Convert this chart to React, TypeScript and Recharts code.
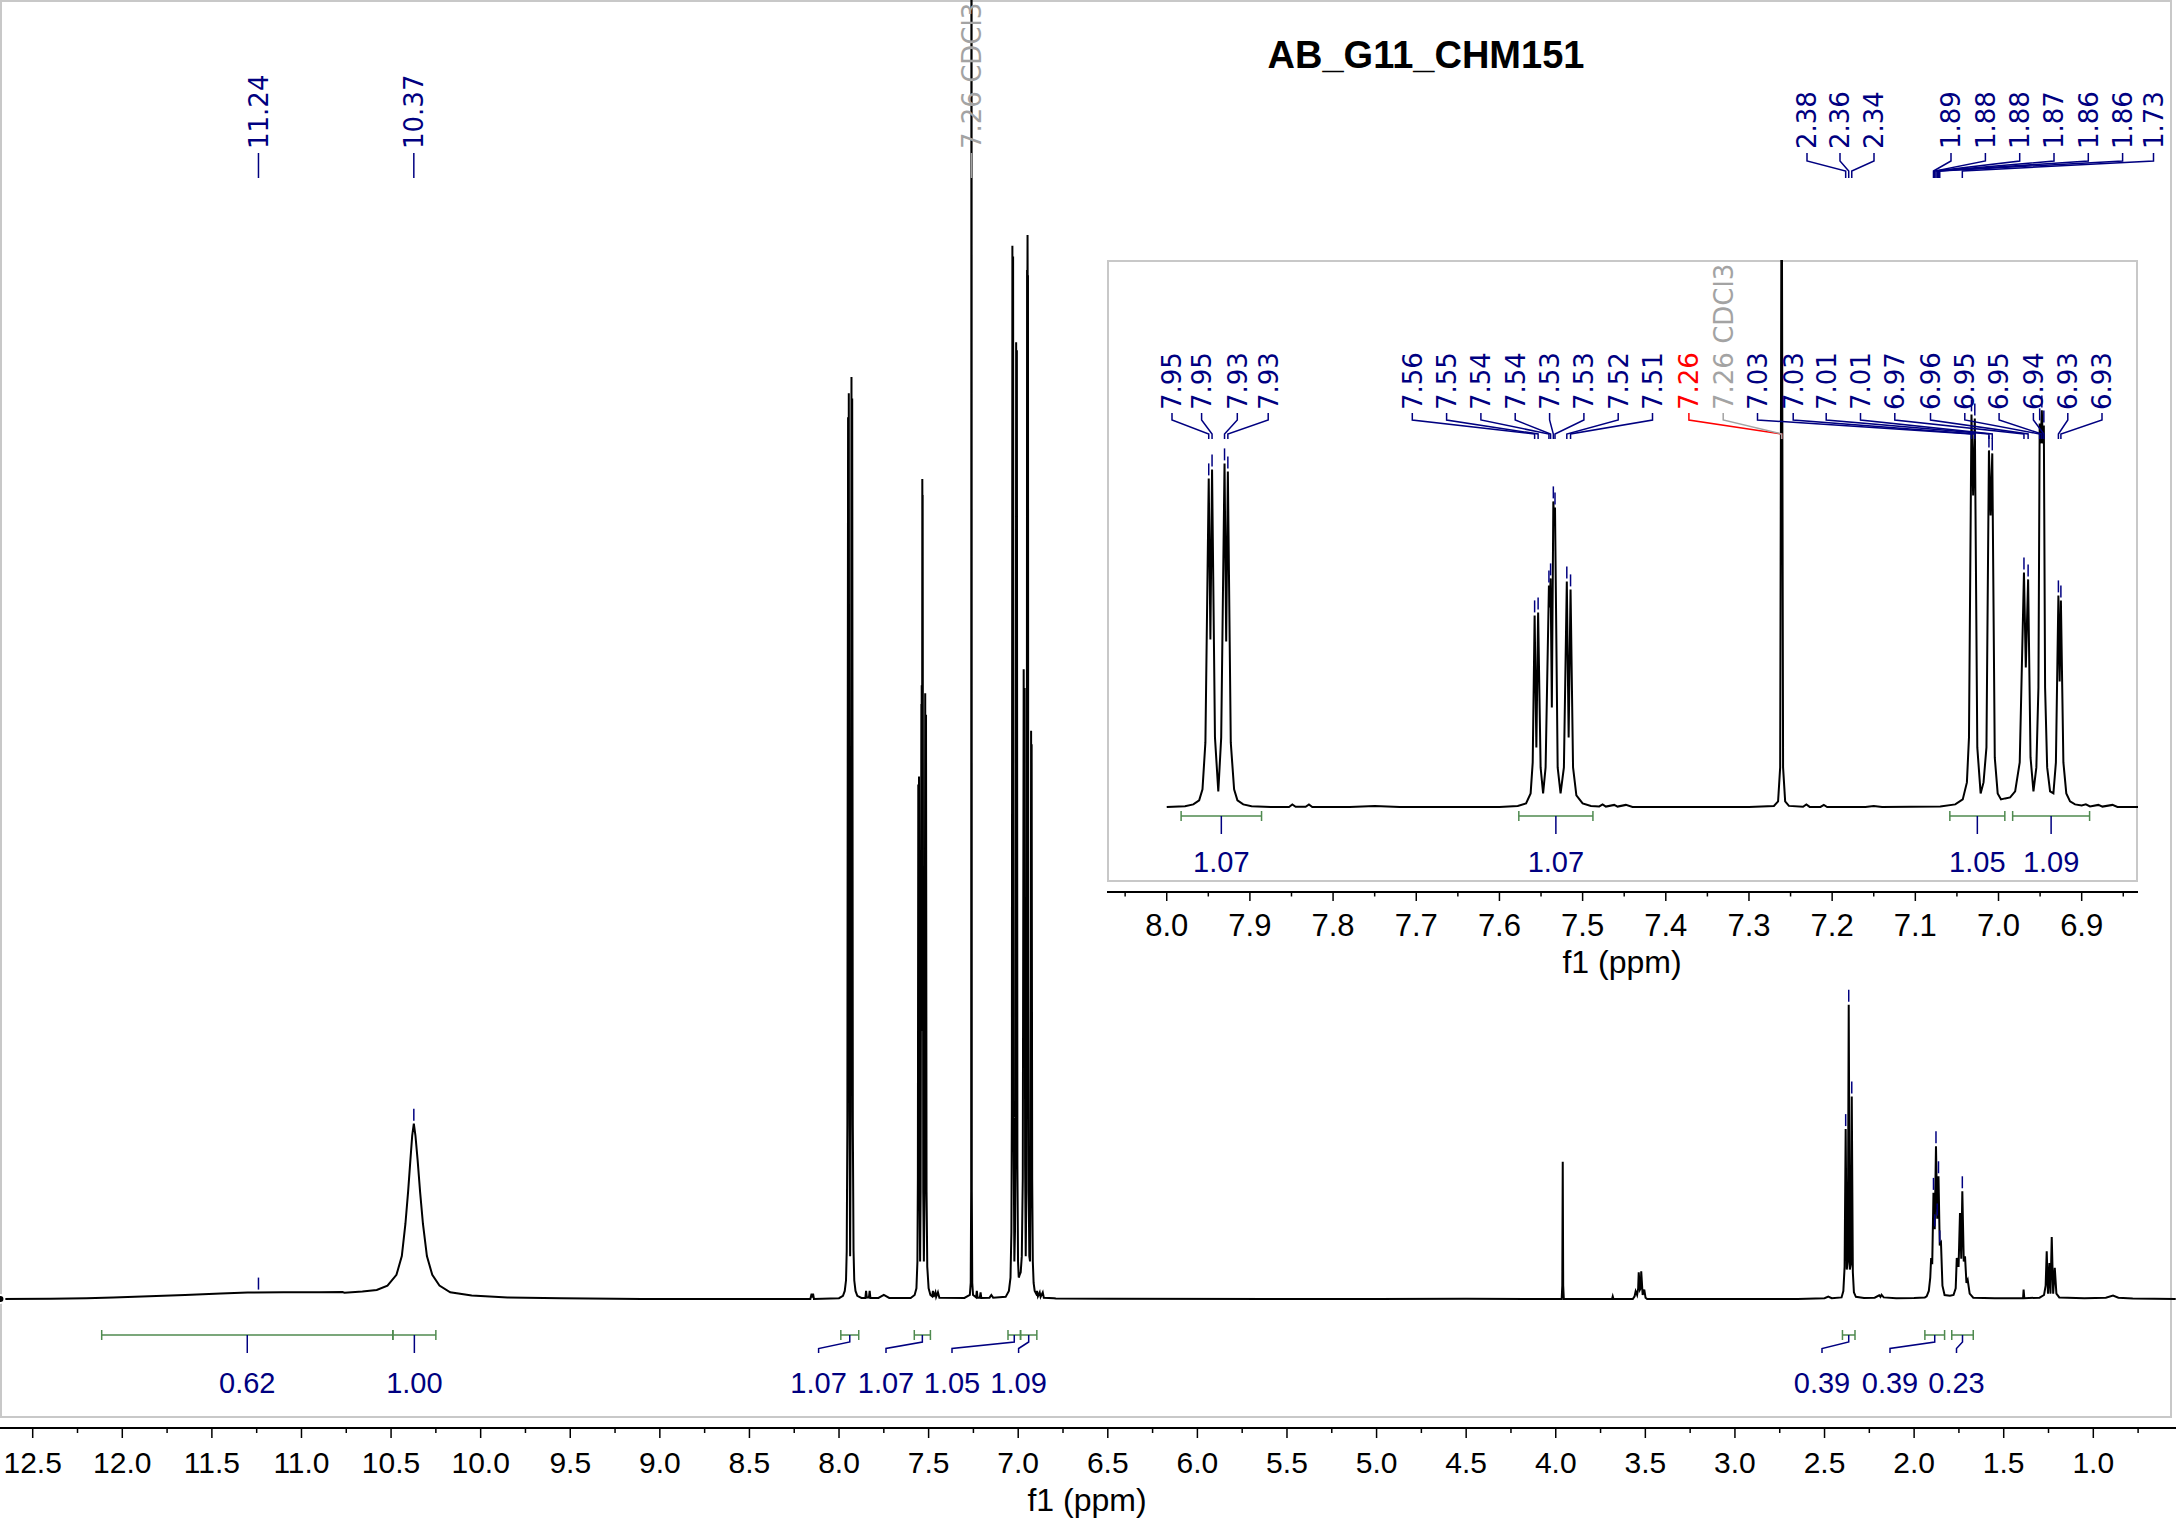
import React from "react";
import { ComposedChart, Line, XAxis, YAxis, ReferenceDot, ReferenceLine } from "recharts";

type Pt = [number, number];

// spectrum vertices [ppm, intensity]
const broadRegion: Pt[] = [
  [12.68, 0], [12.4, 0.1], [12.2, 0.3], [12.05, 0.6], [11.85, 1.0], [11.65, 1.5], [11.45, 2.1],
  [11.3, 2.4], [11.1, 2.5], [10.9, 2.5], [10.77, 2.6], [10.76, 2.3], [10.66, 2.8], [10.58, 3.4],
  [10.52, 5], [10.47, 9], [10.44, 16], [10.42, 28], [10.405, 40], [10.392, 52], [10.382, 61],
  [10.373, 65.4], [10.364, 61], [10.352, 52], [10.338, 40], [10.322, 28], [10.3, 16], [10.27, 9],
  [10.23, 5], [10.17, 2.5], [10.05, 1.3], [9.85, 0.6], [9.55, 0.25], [9.1, 0.05], [8.6, 0],
];

const aromaticRegion: Pt[] = [
  [8.4, 0], [8.16, 0], [8.153, 2], [8.149, 0.5], [8.145, 2], [8.14, 0],
  [8.0, 0.3], [7.978, 1.2], [7.968, 3], [7.961, 7], [7.957, 18], [7.9535, 65], [7.9495, 329],
  [7.9475, 168], [7.9455, 338], [7.942, 70], [7.938, 16], [7.9345, 70], [7.9305, 344],
  [7.9285, 166], [7.9265, 336], [7.923, 65], [7.919, 18], [7.915, 7], [7.908, 3], [7.898, 1.2],
  [7.875, 0.4], [7.853, 0.4], [7.849, 3], [7.845, 0.6], [7.833, 0.6], [7.829, 3], [7.825, 0.4],
  [7.78, 0.4], [7.75, 1.5], [7.72, 0.4],
  [7.6, 0.4], [7.578, 1.5], [7.568, 4], [7.5625, 14], [7.56, 45], [7.5577, 192], [7.5556, 60],
  [7.5535, 195], [7.5505, 40], [7.5475, 14], [7.5445, 40], [7.5405, 222], [7.5395, 200],
  [7.5385, 229], [7.537, 100], [7.5352, 306], [7.5342, 287], [7.5332, 300], [7.53, 40],
  [7.5265, 14], [7.5225, 40], [7.519, 226], [7.5168, 70], [7.5145, 218], [7.5115, 40],
  [7.5075, 12], [7.5, 4], [7.49, 1.5], [7.48, 1], [7.476, 3], [7.472, 0.8], [7.462, 2.5],
  [7.458, 0.8], [7.448, 2.5], [7.44, 0.5],
  [7.3, 0.4], [7.27, 1.5], [7.265, 6], [7.2625, 40], [7.2607, 700], [7.259, 40], [7.2565, 6],
  [7.252, 1.5], [7.235, 0.6], [7.231, 3], [7.227, 0.5], [7.214, 0.5], [7.21, 2.5], [7.206, 0.4],
  [7.16, 0.5], [7.15, 1.5], [7.14, 0.5],
  [7.07, 0.8], [7.052, 3], [7.043, 8], [7.038, 25], [7.0355, 70], [7.0325, 393], [7.0305, 312],
  [7.0285, 389], [7.0255, 60], [7.0215, 14], [7.018, 25], [7.0145, 60], [7.0115, 357],
  [7.0095, 292], [7.0075, 354], [7.0045, 50], [7.001, 14], [6.997, 8], [6.992, 9], [6.986, 10],
  [6.98, 16], [6.9745, 45], [6.9694, 235], [6.9672, 140], [6.9644, 228], [6.9615, 50],
  [6.958, 16], [6.9545, 40], [6.952, 120], [6.9505, 384], [6.9492, 364], [6.9479, 397],
  [6.9467, 364], [6.9455, 382], [6.944, 120], [6.9415, 40], [6.938, 16], [6.934, 14],
  [6.931, 45], [6.928, 212], [6.9265, 126], [6.925, 207], [6.922, 45], [6.9185, 14], [6.914, 6],
  [6.908, 3], [6.9, 2], [6.895, 3], [6.89, 1], [6.88, 2.5], [6.875, 0.8], [6.863, 2.5],
  [6.857, 0.5], [6.8, 0.3],
];

const aliphaticRegion: Pt[] = [
  [6.79, 0.2], [6.5, 0.1], [5.0, 0], [4.5, 0.1], [4.0, 0], [3.967, 0], [3.9635, 5], [3.961, 51.2],
  [3.9585, 5], [3.955, 0], [3.7, 0], [3.686, 0], [3.682, 1], [3.678, 0], [3.57, 0], [3.56, 1],
  [3.554, 2.9], [3.546, 1.5], [3.54, 4], [3.537, 10], [3.53, 3.5], [3.526, 4], [3.523, 10.3],
  [3.515, 1.5], [3.506, 3.5], [3.499, 0.5], [3.49, 0],
  [2.65, 0], [2.5, 0.3], [2.479, 0.9], [2.46, 0.3], [2.405, 0.6], [2.395, 3], [2.388, 12],
  [2.382, 63.4], [2.376, 11], [2.37, 14], [2.365, 109.8], [2.359, 11], [2.353, 13], [2.348, 75.6],
  [2.342, 10], [2.336, 2.5], [2.325, 0.8], [2.28, 0.4], [2.22, 0.5], [2.195, 1.4], [2.188, 0.8],
  [2.182, 1.6], [2.17, 0.6], [2.1, 0.3], [2.0, 0.4], [1.94, 0.6],
  [1.93, 1], [1.918, 3], [1.91, 8], [1.905, 15.3], [1.899, 13], [1.892, 39.6], [1.885, 26],
  [1.878, 57], [1.871, 30], [1.864, 45.8], [1.857, 20], [1.85, 20.9], [1.842, 5], [1.83, 1.5],
  [1.8, 1.2], [1.78, 1.5], [1.768, 4], [1.762, 15.3], [1.752, 12], [1.744, 32.1], [1.737, 15],
  [1.731, 40.2], [1.723, 14], [1.716, 15.9], [1.708, 6], [1.701, 7.1], [1.69, 2], [1.67, 0.5],
  [1.55, 0.3], [1.45, 0.3], [1.392, 0.3], [1.389, 3.5], [1.385, 0.3], [1.3, 0.5], [1.275, 1.5],
  [1.266, 5], [1.26, 17.8], [1.253, 2], [1.245, 13.4], [1.239, 2], [1.232, 23.1], [1.224, 2],
  [1.215, 11.6], [1.206, 2], [1.19, 0.6], [1.05, 0.3], [0.93, 0.5], [0.89, 1.3], [0.86, 0.5],
  [0.78, 0.2], [0.54, 0],
];

const mainMajorTicks = [12.5, 12.0, 11.5, 11.0, 10.5, 10.0, 9.5, 9.0, 8.5, 8.0, 7.5, 7.0, 6.5, 6.0, 5.5, 5.0, 4.5, 4.0, 3.5, 3.0, 2.5, 2.0, 1.5, 1.0];
const mainMinorTicks = [12.25, 11.75, 11.25, 10.75, 10.25, 9.75, 9.25, 8.75, 8.25, 7.75, 7.25, 6.75, 6.25, 5.75, 5.25, 4.75, 4.25, 3.75, 3.25, 2.75, 2.25, 1.75, 1.25, 0.75];
const insetMajorTicks = [8.0, 7.9, 7.8, 7.7, 7.6, 7.5, 7.4, 7.3, 7.2, 7.1, 7.0, 6.9];
const insetMinorTicks = [8.05, 7.95, 7.85, 7.75, 7.65, 7.55, 7.45, 7.35, 7.25, 7.15, 7.05, 6.95, 6.85];

type PeakLabel = { ppm: number; text: string; tone?: "ref" | "solvent" };

const mainLabels: PeakLabel[] = [
  { ppm: 11.24, text: "11.24" },
  { ppm: 10.373, text: "10.37" },
  { ppm: 7.2607, text: "7.26 CDCl3", tone: "solvent" },
  { ppm: 2.382, text: "2.38" },
  { ppm: 2.365, text: "2.36" },
  { ppm: 2.348, text: "2.34" },
  { ppm: 1.892, text: "1.89" },
  { ppm: 1.885, text: "1.88" },
  { ppm: 1.878, text: "1.88" },
  { ppm: 1.871, text: "1.87" },
  { ppm: 1.864, text: "1.86" },
  { ppm: 1.857, text: "1.86" },
  { ppm: 1.731, text: "1.73" },
];

const insetLabels: PeakLabel[] = [
  { ppm: 7.9495, text: "7.95" }, { ppm: 7.9455, text: "7.95" },
  { ppm: 7.9305, text: "7.93" }, { ppm: 7.9265, text: "7.93" },
  { ppm: 7.5577, text: "7.56" }, { ppm: 7.5535, text: "7.55" },
  { ppm: 7.5405, text: "7.54" }, { ppm: 7.5385, text: "7.54" },
  { ppm: 7.5352, text: "7.53" }, { ppm: 7.5332, text: "7.53" },
  { ppm: 7.519, text: "7.52" }, { ppm: 7.5145, text: "7.51" },
  { ppm: 7.2607, text: "7.26", tone: "ref" },
  { ppm: 7.2607, text: "7.26 CDCl3", tone: "solvent" },
  { ppm: 7.0325, text: "7.03" }, { ppm: 7.0285, text: "7.03" },
  { ppm: 7.0115, text: "7.01" }, { ppm: 7.0075, text: "7.01" },
  { ppm: 6.9694, text: "6.97" }, { ppm: 6.9644, text: "6.96" },
  { ppm: 6.9505, text: "6.95" }, { ppm: 6.9479, text: "6.95" },
  { ppm: 6.9455, text: "6.94" }, { ppm: 6.928, text: "6.93" },
  { ppm: 6.925, text: "6.93" },
];

type Integral = { from: number; to: number; value: string };

const mainIntegrals: Integral[] = [
  { from: 12.115, to: 10.49, value: "0.62" },
  { from: 10.49, to: 10.25, value: "1.00" },
  { from: 7.99, to: 7.89, value: "1.07" },
  { from: 7.58, to: 7.49, value: "1.07" },
  { from: 7.057, to: 6.987, value: "1.05" },
  { from: 6.987, to: 6.896, value: "1.09" },
  { from: 2.4, to: 2.33, value: "0.39" },
  { from: 1.94, to: 1.83, value: "0.39" },
  { from: 1.79, to: 1.67, value: "0.23" },
];

const insetIntegrals: Integral[] = [
  { from: 7.9827, to: 7.886, value: "1.07" },
  { from: 7.5767, to: 7.4876, value: "1.07" },
  { from: 7.0585, to: 6.9924, value: "1.05" },
  { from: 6.983, to: 6.8905, value: "1.09" },
];

// ---- layout (page pixels) ----
const W = 2176;
const H = 1518;
const INSET_LEFT = 1107;
const INSET_TOP = 260;
const INSET_W = 1031;
const INSET_H = 752;
const MAIN_LABEL_X: (number | null)[] = [null, null, null, 1807, 1840, 1874, 1951, 1985.4, 2019.7, 2054, 2088.3, 2122.6, 2153.5];
const INSET_LABEL_X: number[] = [
  1172, 1201.6, 1237.3, 1268.2,
  1412.3, 1446.6, 1480.9, 1515.2, 1549.6, 1583.9, 1618.2, 1652.5,
  1688.9, 1723.2,
  1757.5, 1793.2, 1826.2, 1860.5, 1894.8, 1930.5, 1964.8, 1999.1, 2033.4, 2067.8, 2102,
];
const MAIN_INTEGRAL_X: (number | null)[] = [null, null, 818.6, 886, 952, 1018.6, 1822, 1890, 1956.5];

const MAIN_G = { text: 149, y1: 153, y2: 161, y3: 171, y4: 178 };
const INSET_G = { text: 410, y1: 413, y2: 420, y3: 434, y4: 439 };
const MAIN_IG = { bar: 1335, leg1: 1342, leg2: 1348.5, leg3: 1353, text: 1393 };
const INSET_IG = { bar: 816, leg1: 825, leg2: 829, leg3: 834, text: 872 };

const NAVY = "#000080";
const GREEN = "#4f8a4f";
const GREY = "#a3a3a3";
const RED = "#ff0000";
const SANS = "Liberation Sans, Arial, sans-serif";
const LABEL_FONT = "DejaVu Sans, Verdana, sans-serif";

const spectrum = [...broadRegion, ...aromaticRegion, ...aliphaticRegion]
  .map(([ppm, v]) => ({ ppm, v }))
  .sort((a, b) => b.ppm - a.ppm);

const insetData = spectrum.filter((p) => p.ppm > 6.78 && p.ppm < 8.12);

function heightAt(ppm: number) {
  let best = spectrum[0];
  for (const p of spectrum) if (Math.abs(p.ppm - ppm) < Math.abs(best.ppm - ppm)) best = p;
  return best.v;
}

function toneColor(tone?: string) {
  return tone === "ref" ? RED : tone === "solvent" ? GREY : NAVY;
}

function LabelMark(props: any) {
  const { cx, lx, text, tone, ox, oy, g } = props;
  const color = toneColor(tone);
  const x = lx == null ? cx : lx - ox;
  const y = (v: number) => v - oy;
  return (
    <g>
      <path
        d={`M${x},${y(g.y1)}L${x},${y(g.y2)}L${cx},${y(g.y3)}L${cx},${y(g.y4)}`}
        fill="none"
        stroke={color}
        strokeWidth={1.5}
      />
      <text
        transform={`translate(${x},${y(g.text)}) rotate(-90)`}
        dy="0.36em"
        fill={color}
        fontSize={26}
        fontFamily={LABEL_FONT}
      >
        {text}
      </text>
    </g>
  );
}

function IntegralMark(props: any) {
  const { x1, x2, lx, value, ox, oy, g } = props;
  const cx = (x1 + x2) / 2;
  const x = lx == null ? cx : lx - ox;
  const y = (v: number) => v - oy;
  return (
    <g>
      <line x1={x1} x2={x2} y1={y(g.bar)} y2={y(g.bar)} stroke={GREEN} strokeWidth={1.5} />
      <line x1={x1} x2={x1} y1={y(g.bar - 5)} y2={y(g.bar + 5)} stroke={GREEN} strokeWidth={1.5} />
      <line x1={x2} x2={x2} y1={y(g.bar - 5)} y2={y(g.bar + 5)} stroke={GREEN} strokeWidth={1.5} />
      <path
        d={`M${cx},${y(g.bar)}L${cx},${y(g.leg1)}L${x},${y(g.leg2)}L${x},${y(g.leg3)}`}
        fill="none"
        stroke={NAVY}
        strokeWidth={1.5}
      />
      <text x={x} y={y(g.text)} textAnchor="middle" fill={NAVY} fontSize={29} fontFamily={SANS}>
        {value}
      </text>
    </g>
  );
}

function makeTick(major: number[], bigLen: number, smallLen: number, textDy: number, fontSize: number) {
  return (props: any) => {
    const { x, y, payload } = props;
    const isMajor = major.includes(payload.value);
    return (
      <g>
        <line x1={x} x2={x} y1={y} y2={y + (isMajor ? bigLen : smallLen)} stroke="#000" strokeWidth={1.5} />
        {isMajor ? (
          <text x={x} y={y + textDy} textAnchor="middle" fontSize={fontSize} fontFamily={SANS} fill="#000">
            {Number(payload.value).toFixed(1)}
          </text>
        ) : null}
      </g>
    );
  };
}

const mainTick = makeTick(mainMajorTicks, 10, 5, 45, 30);
const insetTick = makeTick(insetMajorTicks, 9, 4.5, 44, 31);

function markers(labels: PeakLabel[], keyPrefix: string) {
  return labels
    .filter((l) => !l.tone)
    .map((l, i) => (
      <ReferenceDot
        key={`${keyPrefix}-m-${i}`}
        x={l.ppm}
        y={heightAt(l.ppm)}
        ifOverflow="discard"
        shape={(p: any) => (
          <line x1={p.cx} x2={p.cx} y1={p.cy - 15} y2={p.cy - 3} stroke={NAVY} strokeWidth={1.5} />
        )}
      />
    ));
}

export default function App() {
  return (
    <div style={{ position: "absolute", left: 0, top: 0, width: W, height: H, background: "#fff" }}>
      <div
        style={{
          position: "absolute",
          left: 0,
          top: 0,
          width: 2172,
          height: 1418,
          border: "2px solid #c8c8c8",
          boxSizing: "border-box",
        }}
      />
      <div style={{ position: "absolute", left: 0, top: 0 }}>
        <ComposedChart width={W} height={H} data={spectrum} margin={{ top: 0, right: 0, bottom: 0, left: 0 }}>
          <XAxis
            type="number"
            dataKey="ppm"
            domain={[0.5385, 12.6825]}
            reversed
            allowDataOverflow
            ticks={[...mainMajorTicks, ...mainMinorTicks].sort((a, b) => b - a)}
            interval={0}
            tickSize={0}
            tickMargin={0}
            tickLine={false}
            tick={mainTick}
            axisLine={{ stroke: "#000", strokeWidth: 2 }}
            height={90}
          />
          <YAxis hide type="number" domain={[-48.13, 484.7]} allowDataOverflow />
          <Line
            type="linear"
            dataKey="v"
            stroke="#000"
            strokeWidth={2}
            dot={false}
            isAnimationActive={false}
          />
          {mainIntegrals.map((it, i) => (
            <ReferenceLine
              key={`mi-${i}`}
              segment={[{ x: it.from, y: 0 }, { x: it.to, y: 0 }]}
              ifOverflow="visible"
              shape={(p: any) => (
                <IntegralMark x1={p.x1} x2={p.x2} lx={MAIN_INTEGRAL_X[i]} value={it.value} ox={0} oy={0} g={MAIN_IG} />
              )}
            />
          ))}
          {markers(mainLabels, "main")}
          {mainLabels.map((l, i) => (
            <ReferenceDot
              key={`ml-${i}`}
              x={l.ppm}
              y={0}
              ifOverflow="visible"
              shape={(p: any) => (
                <LabelMark cx={p.cx} lx={MAIN_LABEL_X[i]} text={l.text} tone={l.tone} ox={0} oy={0} g={MAIN_G} />
              )}
            />
          ))}
        </ComposedChart>
      </div>

      <div
        style={{
          position: "absolute",
          left: INSET_LEFT,
          top: INSET_TOP,
          width: INSET_W,
          height: 622,
          border: "2px solid #c8c8c8",
          boxSizing: "border-box",
          background: "#fff",
        }}
      />
      <div style={{ position: "absolute", left: INSET_LEFT, top: INSET_TOP }}>
        <ComposedChart width={INSET_W} height={INSET_H} data={insetData} margin={{ top: 0, right: 0, bottom: 0, left: 0 }}>
          <XAxis
            type="number"
            dataKey="ppm"
            domain={[6.8323, 8.0718]}
            reversed
            allowDataOverflow
            ticks={[...insetMajorTicks, ...insetMinorTicks].sort((a, b) => b - a)}
            interval={0}
            tickSize={0}
            tickMargin={0}
            tickLine={false}
            tick={insetTick}
            axisLine={{ stroke: "#000", strokeWidth: 2 }}
            height={120}
          />
          <YAxis hide type="number" domain={[-84.6, 547.4]} allowDataOverflow />
          <Line
            type="linear"
            dataKey="v"
            stroke="#000"
            strokeWidth={2}
            dot={false}
            isAnimationActive={false}
          />
          {insetIntegrals.map((it, i) => (
            <ReferenceLine
              key={`ii-${i}`}
              segment={[{ x: it.from, y: 0 }, { x: it.to, y: 0 }]}
              ifOverflow="visible"
              shape={(p: any) => (
                <IntegralMark x1={p.x1} x2={p.x2} lx={null} value={it.value} ox={INSET_LEFT} oy={INSET_TOP} g={INSET_IG} />
              )}
            />
          ))}
          {markers(insetLabels, "inset")}
          {insetLabels.map((l, i) => (
            <ReferenceDot
              key={`il-${i}`}
              x={l.ppm}
              y={0}
              ifOverflow="visible"
              shape={(p: any) => (
                <LabelMark
                  cx={p.cx}
                  lx={INSET_LABEL_X[i]}
                  text={l.text}
                  tone={l.tone}
                  ox={INSET_LEFT}
                  oy={INSET_TOP}
                  g={INSET_G}
                />
              )}
            />
          ))}
        </ComposedChart>
      </div>

      <svg
        width={W}
        height={H}
        style={{ position: "absolute", left: 0, top: 0, pointerEvents: "none" }}
      >
        <text x={1426} y={68} textAnchor="middle" fontSize={38} fontWeight="bold" fontFamily={SANS} fill="#000">
          AB_G11_CHM151
        </text>
        <text x={1087} y={1511} textAnchor="middle" fontSize={32} fontFamily={SANS} fill="#000">
          f1 (ppm)
        </text>
        <text x={1622} y={973} textAnchor="middle" fontSize={32} fontFamily={SANS} fill="#000">
          f1 (ppm)
        </text>
      </svg>
    </div>
  );
}
